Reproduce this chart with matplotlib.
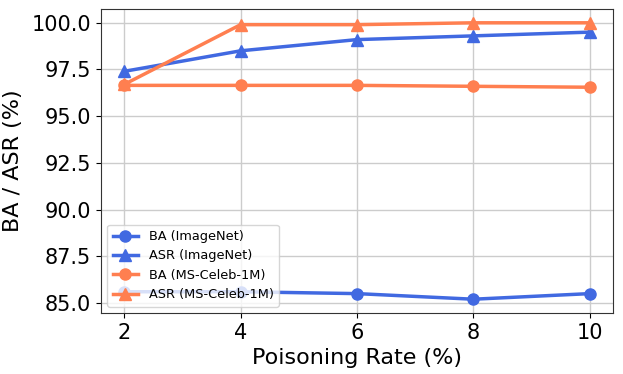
import matplotlib
matplotlib.use("Agg")
import matplotlib.pyplot as plt

rates = [2, 4, 6, 8, 10]
ba_imagenet = [85.6, 85.6, 85.5, 85.2, 85.5]
asr_imagenet = [97.4, 98.5, 99.1, 99.3, 99.5]
ba_celeb = [96.65, 96.65, 96.65, 96.6, 96.55]
asr_celeb = [96.7, 99.9, 99.9, 100.0, 100.0]

fig, ax = plt.subplots(figsize=(6.23, 3.74), dpi=100)
ax.plot(rates, ba_imagenet, color="royalblue", marker="o", lw=2.5, ms=8, label="BA (ImageNet)")
ax.plot(rates, asr_imagenet, color="royalblue", marker="^", lw=2.5, ms=8, label="ASR (ImageNet)")
ax.plot(rates, ba_celeb, color="coral", marker="o", lw=2.5, ms=8, label="BA (MS-Celeb-1M)")
ax.plot(rates, asr_celeb, color="coral", marker="^", lw=2.5, ms=8, label="ASR (MS-Celeb-1M)")

ax.set_xticks(rates)
ax.set_yticks([85.0, 87.5, 90.0, 92.5, 95.0, 97.5, 100.0])
ax.tick_params(labelsize=15)
ax.set_xlabel("Poisoning Rate (%)", fontsize=16)
ax.set_ylabel("BA / ASR (%)", fontsize=16, labelpad=6)
ax.grid(True, color="#cccccc", lw=1)
for s in ax.spines.values():
    s.set_color("#333333")
ax.legend(loc="lower left", fontsize=9.3)
fig.subplots_adjust(left=0.162, right=0.984, top=0.976, bottom=0.163)
fig.savefig("out.png", dpi=100)
